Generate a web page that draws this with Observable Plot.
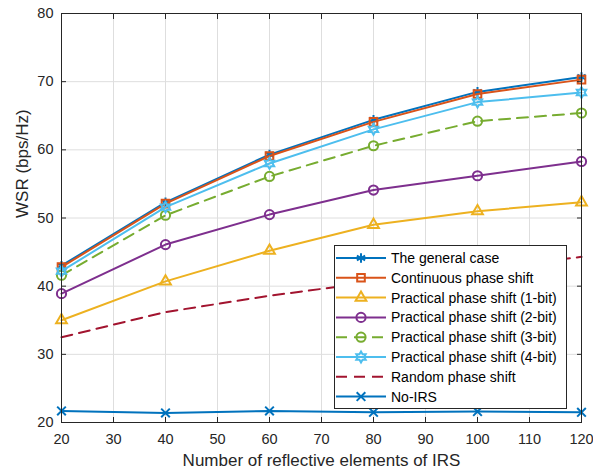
<!DOCTYPE html>
<html><head><meta charset="utf-8">
<script src="https://cdn.jsdelivr.net/npm/d3@7"></script>
<script src="https://cdn.jsdelivr.net/npm/@observablehq/plot@0.6"></script>
<style>
body{margin:0;background:#fff;font-family:"Liberation Sans",Arial,sans-serif}
#wrap{position:relative;width:593px;height:476px}
#legend{position:absolute;left:334px;top:245px;width:231px;height:162px;border:1px solid #262626;background:#fff}
</style>
</head><body><div id="wrap"><div id="chart"></div><div id="legend"></div></div>
<script>
const elements = [20, 40, 60, 80, 100, 120];
const generalCase = [43.0, 52.3, 59.3, 64.4, 68.5, 70.7];
const continuous  = [42.8, 52.1, 59.1, 64.1, 68.2, 70.3];
const bit1        = [35.0, 40.7, 45.2, 49.0, 51.0, 52.3];
const bit2        = [38.9, 46.1, 50.5, 54.1, 56.2, 58.3];
const bit3        = [41.6, 50.4, 56.1, 60.6, 64.2, 65.4];
const bit4        = [42.2, 51.6, 58.0, 63.0, 67.0, 68.4];
const randomPS    = [32.5, 36.2, 38.6, 40.6, 42.5, 44.3];
const noIRS       = [21.7, 21.4, 21.7, 21.5, 21.6, 21.5];

const seriesNames = ["The general case","Continuous phase shift","Practical phase shift (1-bit)","Practical phase shift (2-bit)","Practical phase shift (3-bit)","Practical phase shift (4-bit)","Random phase shift","No-IRS"];
const seriesValues = [generalCase, continuous, bit1, bit2, bit3, bit4, randomPS, noIRS];
const colors = ["#0072BD","#D95319","#EDB120","#7E2F8E","#77AC30","#4DBEEE","#A2142F","#0072BD"];
const xTicks = [20,30,40,50,60,70,80,90,100,110,120];
const yTicks = [20,30,40,50,60,70,80];

const hexagram = {
  draw(ctx, size) {
    const R = Math.sqrt(size / Math.PI) * 1.35, r = R / Math.sqrt(3);
    for (let i = 0; i < 12; i++) {
      const a = -Math.PI / 2 + i * Math.PI / 6, rr = i % 2 ? r : R;
      const x = rr * Math.cos(a), y = rr * Math.sin(a);
      i ? ctx.lineTo(x, y) : ctx.moveTo(x, y);
    }
    ctx.closePath();
  }
};
const d3Sym = {asterisk: d3.symbolAsterisk, square: d3.symbolSquare, triangle: d3.symbolTriangle, circle: d3.symbolCircle, times: d3.symbolTimes, hexagram};
const symbols = ["asterisk","square","triangle","circle","circle","hexagram","none","times"];
const radius = [4.5, 4.3, 4.0, 4.6, 4.6, 4.0, 0, 4.0];
const dashes = [null,null,null,null,"11,7",null,"11,7",null];

const rows = [];
seriesNames.forEach((s, i) => elements.forEach((n, j) => rows.push({s, i, n, v: seriesValues[i][j]})));

const marks = [
  Plot.gridX(xTicks, {stroke: "#dedede", strokeOpacity: 1}),
  Plot.gridY(yTicks, {stroke: "#dedede", strokeOpacity: 1}),
];
for (let i = 0; i < seriesNames.length; i++) {
  const d = rows.filter(r => r.i === i);
  marks.push(Plot.line(d, {x: "n", y: "v", stroke: colors[i], strokeWidth: 2, strokeDasharray: dashes[i] || undefined}));
  if (symbols[i] !== "none") {
    marks.push(Plot.dot(d, {x: "n", y: "v", stroke: colors[i], fill: "none", strokeWidth: 2,
      symbol: symbols[i] === "hexagram" ? hexagram : symbols[i], r: radius[i]}));
  }
}
marks.push(
  Plot.frame({stroke: "#262626"}),
  Plot.axisX(xTicks, {anchor: "bottom", tickSize: -5, tickPadding: 16, stroke: "#262626", fill: "#262626", label: null}),
  Plot.axisX(xTicks, {anchor: "top", tickSize: -5, tickFormat: () => "", stroke: "#262626", label: null}),
  Plot.axisY(yTicks, {anchor: "left", tickSize: -5, tickPadding: 13, stroke: "#262626", fill: "#262626", label: null}),
  Plot.axisY(yTicks, {anchor: "right", tickSize: -5, tickFormat: () => "", stroke: "#262626", label: null}),
  Plot.text(["Number of reflective elements of IRS"], {frameAnchor: "bottom", dy: 43, fontSize: 17, fill: "#262626"}),
  Plot.text(["WSR (bps/Hz)"], {frameAnchor: "left", dx: -39, rotate: -90, fontSize: 17, fill: "#262626"})
);

const chart = Plot.plot({
  width: 593, height: 476,
  marginLeft: 61, marginRight: 12, marginTop: 13, marginBottom: 54,
  x: {domain: [20, 120]},
  y: {domain: [20, 80]},
  style: {fontSize: "14.5px", fontFamily: "'Liberation Sans', Arial, sans-serif", background: "#fff"},
  marks
});
document.getElementById("chart").append(chart);

// Legend
const lg = d3.select("#legend").append("svg").attr("width", 231).attr("height", 162);
seriesNames.forEach((s, i) => {
  const y = 12 + i * 19.8;
  const g = lg.append("g");
  g.append("line").attr("x1", 1).attr("x2", 51).attr("y1", y).attr("y2", y)
    .attr("stroke", colors[i]).attr("stroke-width", 2).attr("stroke-dasharray", dashes[i] ? "11,7" : null);
  if (symbols[i] !== "none") {
    const r = radius[i];
    g.append("path").attr("transform", `translate(26,${y})`)
      .attr("d", d3.symbol(d3Sym[symbols[i]], Math.PI * r * r)())
      .attr("fill", "none").attr("stroke", colors[i]).attr("stroke-width", 2);
  }
  g.append("text").attr("x", 56).attr("y", y).attr("dy", "0.35em")
    .attr("font-size", 14).attr("fill", "#000").text(s);
});
</script>
</body></html>
